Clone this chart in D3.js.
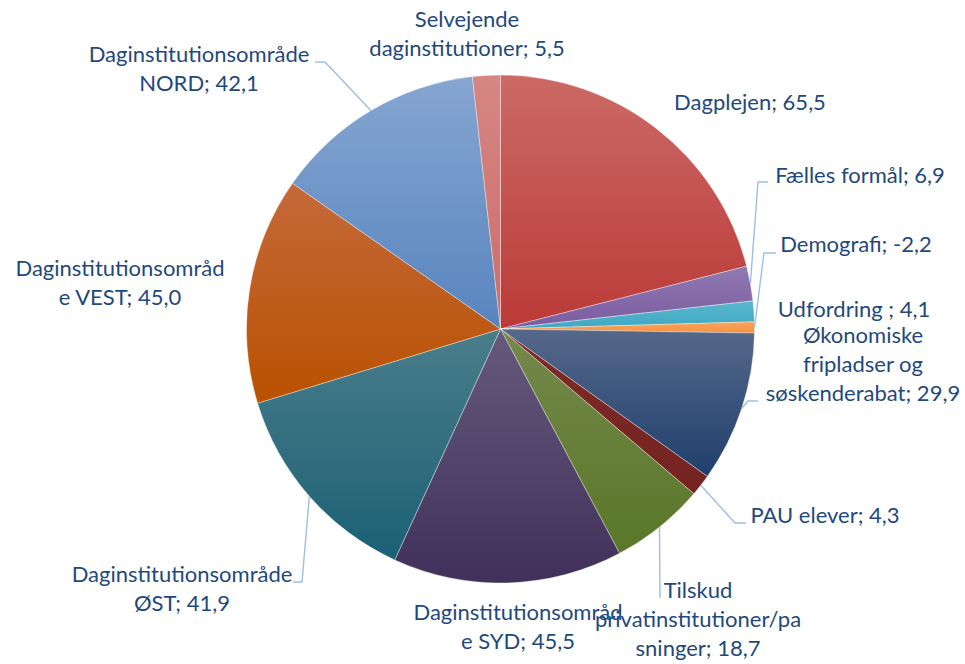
<!DOCTYPE html>
<html>
<head>
<meta charset="utf-8">
<script src="https://cdn.jsdelivr.net/npm/d3@7/dist/d3.min.js"></script>
<style>
	body { margin: 0; background: #fff; }
</style>
</head>
<body>
<div id="chart"></div>
<script>
// slice names, split the way the labels wrap
const nameLines = [
	["Dagplejen"],
	["Fælles formål"],
	["Udfordring "],
	["Demografi"],
	["Økonomiske", "fripladser og", "søskenderabat"],
	["PAU elever"],
	["Tilskud", "privatinstitutioner/pa", "sninger"],
	["Daginstitutionsområd", "e SYD"],
	["Daginstitutionsområde", "ØST"],
	["Daginstitutionsområd", "e VEST"],
	["Daginstitutionsområde", "NORD"],
	["Selvejende", "daginstitutioner"]
];
const values = [65.5, 6.9, 4.1, -2.2, 29.9, 4.3, 18.7, 45.5, 41.9, 45.0, 42.1, 5.5];

// gradient colours per slice (top, bottom)
const topColors = ["#cb6a66", "#9079b0", "#5ab7ce", "#f9a45a", "#56688a", "#7e2c28", "#74894c", "#665a7c", "#4a7d8a", "#c4693a", "#86a6d1", "#d68684"];
const bottomColors = ["#bb3a37", "#7b5ba1", "#3ea8c3", "#f69140", "#1f3f6c", "#742320", "#5a7727", "#40305a", "#1b6075", "#b95100", "#5884be", "#cc6c6a"];

// label placement: centre x, first baseline y
const labelAt = [[750, 110], [860, 183], [854, 317], [856, 252], [863, 343], [825, 523],
	[698, 598], [518, 620], [182, 582], [120, 276], [199, 62], [467, 27]];
// leader line points after the slice edge
const leaders = {
	1: [[758, 182], [768, 182]],
	3: [[764, 253], [776, 253]],
	4: [[748, 401], [758, 401]],
	5: [[735, 523], [746, 523]],
	6: [[660, 598]],
	8: [[302, 582], [293, 582]],
	10: [[325, 62], [315, 62]]
};

const width = 965, height = 664;
const cx = 500.5, cy = 329, radius = 254;
const lineHeight = 29;

const locale = d3.formatLocale({decimal: ",", thousands: ".", grouping: [3], currency: ["", " kr"], minus: "-"});
const fmt = locale.format(".1f");

const svg = d3.select("#chart").append("svg")
	.attr("width", width)
	.attr("height", height)
	.style("font-family", "Lato, 'Open Sans', sans-serif");

const defs = svg.append("defs");
values.forEach(function(v, i) {
	const grad = defs.append("linearGradient")
		.attr("id", "grad" + i)
		.attr("x1", 0).attr("y1", 0)
		.attr("x2", 0).attr("y2", 1);
	grad.append("stop").attr("offset", "0%").attr("stop-color", topColors[i]);
	grad.append("stop").attr("offset", "100%").attr("stop-color", bottomColors[i]);
});

const pie = d3.pie()
	.value(function(d) { return Math.abs(d); })
	.sort(null);

const arcs = pie(values);

const arc = d3.arc().innerRadius(0).outerRadius(radius);
const edge = d3.arc().innerRadius(radius).outerRadius(radius);

const g = svg.append("g")
	.attr("transform", "translate(" + cx + "," + cy + ")");

g.selectAll("path.slice")
	.data(arcs)
	.enter().append("path")
	.attr("class", "slice")
	.attr("d", arc)
	.attr("fill", function(d, i) { return "url(#grad" + i + ")"; })
	.attr("stroke", "#ffffff")
	.attr("stroke-opacity", 0.45)
	.attr("stroke-width", 0.8);

// leader lines
arcs.forEach(function(d, i) {
	if (!leaders[i]) {
		return;
	}
	const start = edge.centroid(d);
	const pts = [[cx + start[0], cy + start[1]]].concat(leaders[i]);
	svg.append("path")
		.attr("d", d3.line()(pts))
		.attr("fill", "none")
		.attr("stroke", "#9dbfe6")
		.attr("stroke-width", 1.4);
});

// data labels
const labels = svg.selectAll("text.label")
	.data(arcs)
	.enter().append("text")
	.attr("class", "label")
	.attr("text-anchor", "middle")
	.attr("fill", "#1f497d")
	.style("font-size", "22px");

labels.each(function(d, i) {
	const lines = nameLines[i].slice();
	lines[lines.length - 1] += "; " + fmt(values[i]);
	d3.select(this).selectAll("tspan")
		.data(lines)
		.enter().append("tspan")
		.attr("x", labelAt[i][0])
		.attr("y", function(l, k) { return labelAt[i][1] + k * lineHeight; })
		.text(function(l) { return l; });
});
</script>
</body>
</html>
